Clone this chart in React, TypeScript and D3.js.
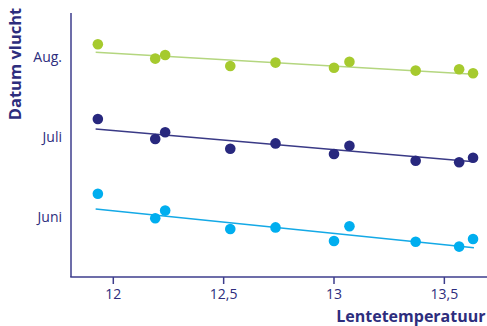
import React from "react";
import * as d3 from "d3";

const temps = [11.93, 12.19, 12.235, 12.53, 12.735, 13.0, 13.07, 13.37, 13.567, 13.63];
const augValues = [8.16, 7.98, 8.025, 7.888, 7.93, 7.866, 7.94, 7.83, 7.846, 7.796];
const juliValues = [7.225, 6.975, 7.06, 6.854, 6.92, 6.788, 6.89, 6.704, 6.684, 6.74];
const juniValues = [6.29, 5.984, 6.08, 5.85, 5.87, 5.7, 5.884, 5.69, 5.63, 5.725];
const trendX = [11.92, 13.634];
const augTrend = [8.06, 7.784];
const juliTrend = [7.1, 6.69];
const juniTrend = [6.1, 5.616];
const xTicks = [12, 12.5, 13, 13.5];
const yTickValues = [6, 7, 8];
const yTickLabels = ["Juni", "Juli", "Aug."];

const series = [
  { values: augValues, trend: augTrend, dot: "#a6ca2e", line: "#b4d67f" },
  { values: juliValues, trend: juliTrend, dot: "#28287e", line: "#3a3a86" },
  { values: juniValues, trend: juniTrend, dot: "#00aeef", line: "#14a9e6" },
];

export default function App() {
  const W = 487, H = 326;
  const x = d3.scaleLinear().domain([12, 13]).range([113.3, 334]);
  const y = d3.scaleLinear().domain([6, 8]).range([217, 57]);
  const axisColor = "#3d3d8c";
  const textColor = "#2d2d7d";
  const font = "'Open Sans', sans-serif";
  const line = d3.line<[number, number]>().x(d => x(d[0])).y(d => y(d[1]));
  const fmt = (v: number) => String(v).replace(".", ",");
  return (
    <svg width={W} height={H} style={{ position: "absolute", left: 0, top: 0 }}>
      <rect width={W} height={H} fill="#fff" />
      {series.map((s, i) => (
        <g key={i}>
          <path d={line(trendX.map((t, j) => [t, s.trend[j]]) as any) || ""} stroke={s.line} strokeWidth={1.5} fill="none" />
          {temps.map((t, j) => (
            <circle key={j} cx={x(t)} cy={y(s.values[j])} r={5.3} fill={s.dot} />
          ))}
        </g>
      ))}
      <line x1={71} y1={13} x2={71} y2={277} stroke={axisColor} strokeWidth={1.5} />
      <line x1={70.25} y1={277} x2={487} y2={277} stroke={axisColor} strokeWidth={1.5} />
      {xTicks.map(t => (
        <g key={t}>
          <line x1={x(t)} x2={x(t)} y1={277} y2={284} stroke={axisColor} strokeWidth={1.5} />
          <text x={x(t)} y={299} textAnchor="middle" fontFamily={font} fontSize={14} fill={textColor}>{fmt(t)}</text>
        </g>
      ))}
      {yTickValues.map((v, i) => (
        <text key={v} x={62} y={y(v) + 5} textAnchor="end" fontFamily={font} fontSize={14} fill={textColor}>{yTickLabels[i]}</text>
      ))}
      <text x={485.5} y={322} textAnchor="end" fontFamily={font} fontWeight="bold" fontSize={16} fill={textColor}>Lentetemperatuur</text>
      <text transform="translate(21,64) rotate(-90)" textAnchor="middle" fontFamily={font} fontWeight="bold" fontSize={16.5} fill={textColor}>Datum vlucht</text>
    </svg>
  );
}
